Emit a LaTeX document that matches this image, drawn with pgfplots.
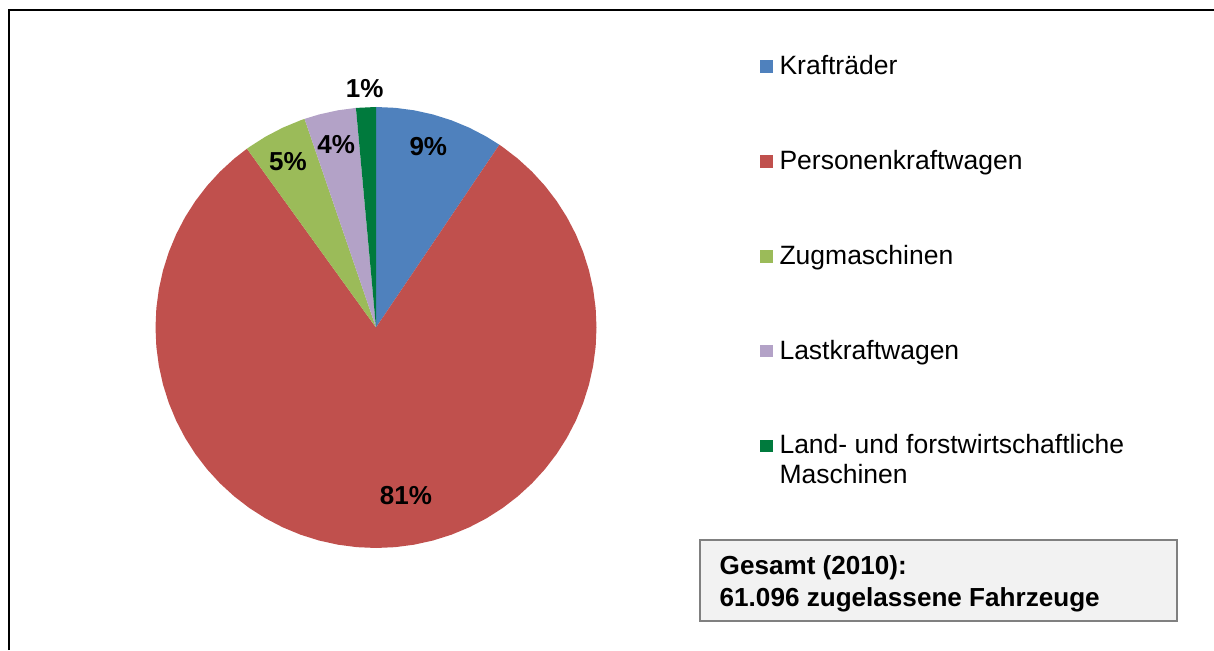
\documentclass[border=0pt]{standalone}
\usepackage{fontspec}
\setmainfont{Liberation Sans}
\usepackage{pgfplots}
\pgfplotsset{compat=1.18}
\usepgfplotslibrary{polar}

\definecolor{krad}{HTML}{4F81BD}
\definecolor{pkw}{HTML}{C0504D}
\definecolor{zug}{HTML}{9BBB59}
\definecolor{lkw}{HTML}{B3A2C7}
\definecolor{lof}{HTML}{007A3D}
\definecolor{boxfill}{HTML}{F2F2F2}
\definecolor{boxline}{HTML}{808080}

\newcommand{\legfont}{\fontsize{26.5}{30}\selectfont}
\newcommand{\boxfont}{\fontsize{26.1}{30}\selectfont\bfseries}
\newcommand{\labfont}{\fontsize{26}{30}\selectfont\bfseries}

% shares: 9.45 / 80.6 / 4.7 / 3.8 / 1.45 %, clockwise from 12 o'clock
\begin{document}
\begin{tikzpicture}[x=1pt,y=1pt]
\path[use as bounding box] (0,0) rectangle (1214,650);
\draw[line width=2pt] (9,0) -- (9,640) -- (1214,640);

\begin{polaraxis}[
    at={(376pt,322.5pt)}, anchor=center,
    width=441pt, scale only axis,
    ymin=0, ymax=1,
    hide axis, clip=false,
    legend style={at={(1.3692,1.119)}, anchor=north west,
        draw=none, fill=none, inner sep=0pt,
        column sep=5pt, row sep=71.3pt,
        font=\legfont,
        cells={anchor=base west, inner sep=0pt, text height=18pt, text depth=5pt}},
    legend image code/.code={\fill (0pt,1.7pt) rectangle (13pt,14.3pt);},
]
\addplot[fill=krad, draw=none] coordinates {
    (0,0) (90,1) (85,1) (80,1) (75,1) (70,1) (65,1) (60,1) (55.98,1)} -- cycle;
\addplot[fill=pkw, draw=none] coordinates {
    (0,0) (55.98,1) (55,1) (50,1) (45,1) (40,1) (35,1) (30,1) (25,1) (20,1)
    (15,1) (10,1) (5,1) (0,1) (-5,1) (-10,1) (-15,1) (-20,1) (-25,1) (-30,1)
    (-35,1) (-40,1) (-45,1) (-50,1) (-55,1) (-60,1) (-65,1) (-70,1) (-75,1)
    (-80,1) (-85,1) (-90,1) (-95,1) (-100,1) (-105,1) (-110,1) (-115,1)
    (-120,1) (-125,1) (-130,1) (-135,1) (-140,1) (-145,1) (-150,1) (-155,1)
    (-160,1) (-165,1) (-170,1) (-175,1) (-180,1) (-185,1) (-190,1) (-195,1)
    (-200,1) (-205,1) (-210,1) (-215,1) (-220,1) (-225,1) (-230,1) (-234.18,1)} -- cycle;
\addplot[fill=zug, draw=none] coordinates {
    (0,0) (-234.18,1) (-235,1) (-240,1) (-245,1) (-250,1) (-251.1,1)} -- cycle;
\addplot[fill=lkw, draw=none] coordinates {
    (0,0) (-251.1,1) (-255,1) (-260,1) (-264.78,1)} -- cycle;
\addplot[fill=lof, draw=none] coordinates {
    (0,0) (-264.78,1) (-270,1)} -- cycle;

% percentage labels
\addplot[forget plot, only marks, mark=*, mark size=0pt, mark options={draw=none, fill=none},
    nodes near coords, point meta=explicit symbolic,
    every node near coord/.append style={anchor=center, inner sep=0pt, font=\labfont, text=black}]
    coordinates {
    (73.87,0.854) [9\%]
    (-79.85,0.772) [81\%]
    (117.96,0.851) [5\%]
    (102.25,0.851) [4\%]
    (92.71,1.083) [1\%]
};

\legend{Krafträder, Personenkraftwagen, Zugmaschinen, Lastkraftwagen,
    {\begin{tabular}[t]{@{}l@{}}Land- und forstwirtschaftliche\\Maschinen\end{tabular}}}
\end{polaraxis}

\draw[boxline, fill=boxfill, line width=2pt] (700,29) rectangle (1177,110);
\node[anchor=base west, inner sep=0pt, font=\boxfont] at (719.5,75) {Gesamt (2010):};
\node[anchor=base west, inner sep=0pt, font=\boxfont] at (719.5,44) {61.096 zugelassene Fahrzeuge};
\end{tikzpicture}
\end{document}
